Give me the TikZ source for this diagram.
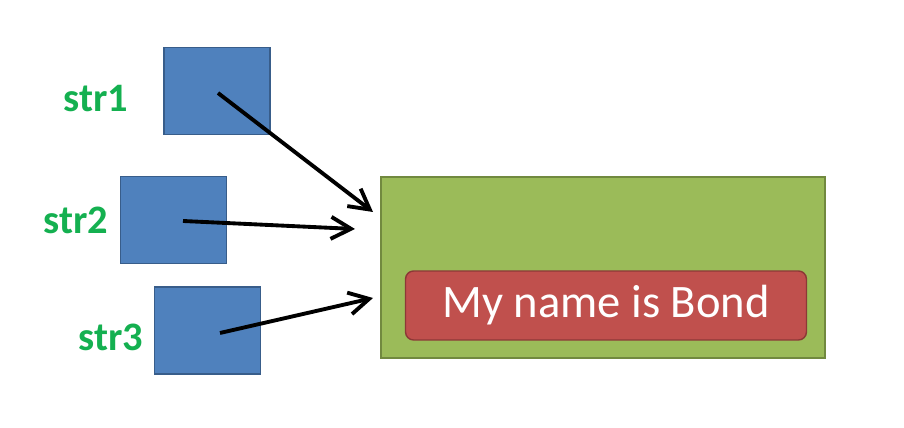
\documentclass[tikz,border=0pt]{standalone}
\usepackage{fontspec}
\setmainfont{Carlito}
\usetikzlibrary{arrows.meta}
\definecolor{cellblue}{RGB}{79,129,189}
\definecolor{cellline}{RGB}{56,93,138}
\definecolor{heapgreen}{RGB}{155,187,89}
\definecolor{heapline}{RGB}{113,137,63}
\definecolor{strred}{RGB}{192,80,77}
\definecolor{strline}{RGB}{140,56,54}
\definecolor{labelgreen}{RGB}{20,176,80}
\begin{document}
\begin{tikzpicture}[x=0.02cm,y=-0.02cm,
  cell/.style={draw=cellline,fill=cellblue,line width=0.8pt,minimum width=2.12cm,minimum height=1.74cm,inner sep=0pt},
  varname/.style={text=labelgreen,font=\fontsize{23}{27}\selectfont\bfseries,inner sep=0pt},
  ref/.style={line width=2.2pt,-{Straight Barb[length=4mm,width=4.4mm,line width=2.2pt]}}]
\useasboundingbox (0,0) rectangle (904,428);
\node[draw=heapline,fill=heapgreen,line width=0.8pt,minimum width=8.88cm,minimum height=3.62cm,inner sep=0pt] (heap) at (603,267.5) {};
\node[draw=strline,fill=strred,line width=0.8pt,rounded corners=0.16cm,minimum width=8.02cm,minimum height=1.38cm,inner sep=0pt,
  text=white,font=\fontsize{26.5}{31}\selectfont] (bond) at (606,305.5) {My name is Bond};
\node[cell] (s1) at (217,91) {};
\node[cell] (s2) at (173.5,220) {};
\node[cell] (s3) at (207.5,330.5) {};
\node[varname] (n1) at (96,99) {str1};
\node[varname] (n2) at (76,220) {str2};
\node[varname] (n3) at (111,337) {str3};
\coordinate (e1) at (373,212);
\coordinate (e2) at (355,229);
\coordinate (e3) at (373,298);
\draw[ref] ([shift={(1,2)}]s1.center) -- (e1);
\draw[ref] ([shift={(9.5,1)}]s2.center) -- (e2);
\draw[ref] ([shift={(12.5,2.5)}]s3.center) -- (e3);
\end{tikzpicture}
\end{document}
